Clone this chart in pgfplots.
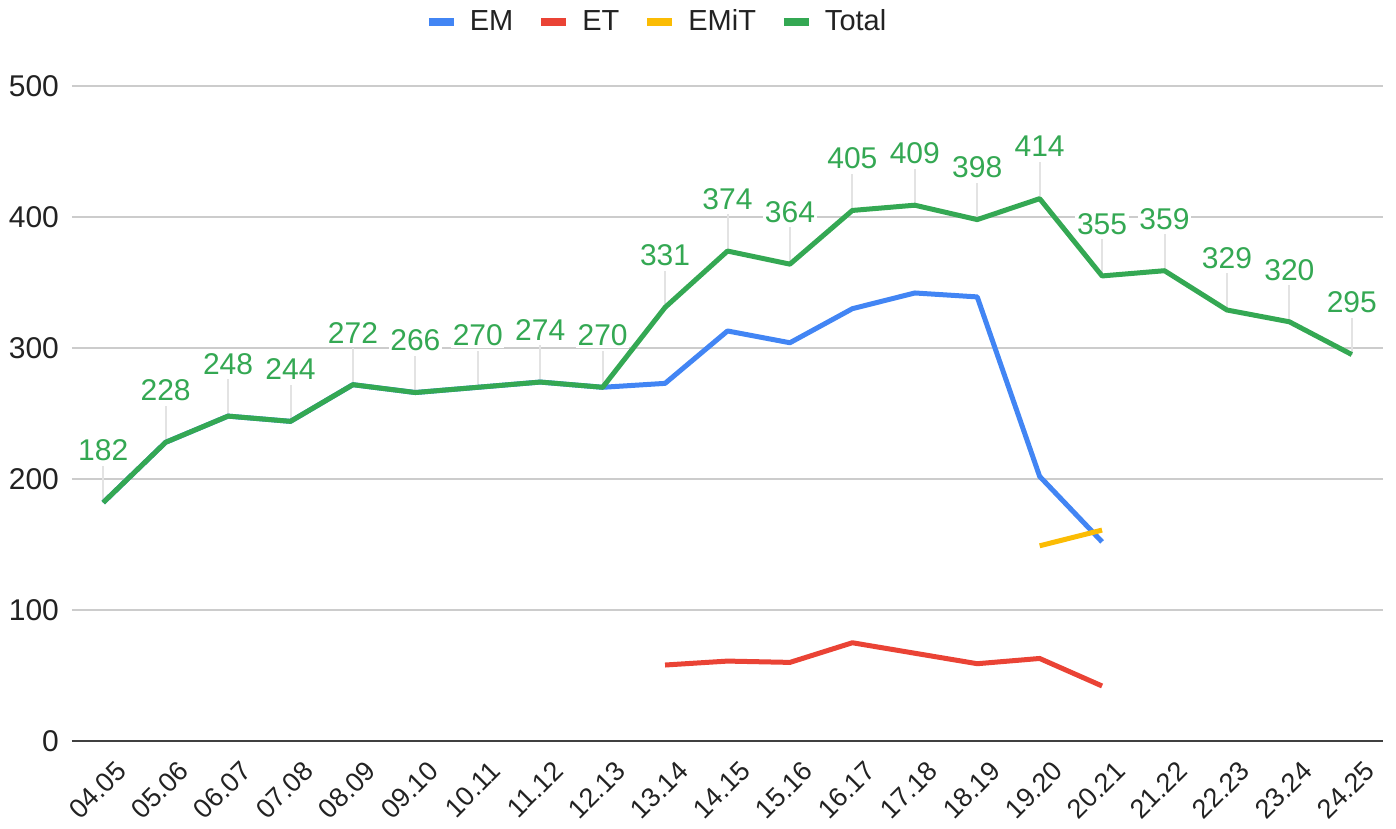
\documentclass[border=0pt]{standalone}
\usepackage{pgfplots}
\pgfplotsset{compat=1.18}
\usepackage{pgfplotstable}
\usepackage{fontspec}
\setmainfont{Liberation Sans}
\definecolor{cEM}{HTML}{4285F4}
\definecolor{cET}{HTML}{EA4335}
\definecolor{cEMiT}{HTML}{FBBC04}
\definecolor{cTotal}{HTML}{34A853}
\definecolor{gridc}{HTML}{CCCCCC}
\definecolor{stem}{HTML}{E3E3E3}
\definecolor{ticktext}{HTML}{222222}

\pgfplotstableread{
x total
0 182
1 228
2 248
3 244
4 272
5 266
6 270
7 274
8 270
9 331
10 374
11 364
12 405
13 409
14 398
15 414
16 355
17 359
18 329
19 320
20 295
}\totaldata

\pgfplotstableread{
x em
0 182
1 228
2 248
3 244
4 272
5 266
6 270
7 274
8 270
9 273
10 313
11 304
12 330
13 342
14 339
15 202
16 152
}\emdata

\pgfplotstableread{
x et
9 58
10 61
11 60
12 75
13 67
14 59
15 63
16 42
}\etdata

\pgfplotstableread{
x emit
15 149
16 161
}\emitdata

\begin{document}
\begin{tikzpicture}
\begin{axis}[
    scale only axis,
    width=655.5pt,
    height=327.5pt,
    xmin=-0.5, xmax=20.5,
    ymin=0, ymax=500,
    ytick={0,100,200,300,400,500},
    xtick={0,...,20},
    xticklabels={04.05,05.06,06.07,07.08,08.09,09.10,10.11,11.12,12.13,13.14,14.15,15.16,16.17,17.18,18.19,19.20,20.21,21.22,22.23,23.24,24.25},
    x tick label style={rotate=45, anchor=north east, font=\fontsize{13.5}{15}\selectfont, text=ticktext, xshift=1pt, yshift=-7pt},
    y tick label style={font=\fontsize{15}{17}\selectfont, text=ticktext, xshift=-3pt},
    /pgf/number format/assume math mode=true,
    major tick length=0pt,
    ymajorgrids,
    major grid style={draw=gridc, line width=1pt},
    axis x line*=bottom,
    axis y line*=left,
    x axis line style={-, draw=black!75, line width=1pt},
    y axis line style={draw=none},
    legend style={at={(0.5,1)}, anchor=center, xshift=-35pt, yshift=32pt, draw=none, fill=none,
        font=\fontsize{14.5}{17}\selectfont, text=ticktext, legend columns=4,
        /tikz/every odd column/.append style={column sep=4pt},
        /tikz/every even column/.append style={column sep=10pt}},
    legend image code/.code={\draw[line width=4pt] (0pt,0pt) -- (12.5pt,0pt);},
    clip=false,
    line join=round,
]
\addplot[draw=none, mark=none, forget plot,
    error bars/.cd, y dir=plus, y fixed=28, error mark=none,
    error bar style={draw=stem, line width=1pt}]
    table[x=x, y=total] {\totaldata};
\addplot[cEM, line width=2.5pt, mark=none] table[x=x, y=em] {\emdata};
\addplot[cET, line width=2.5pt, mark=none] table[x=x, y=et] {\etdata};
\addplot[cEMiT, line width=2.5pt, mark=none] table[x=x, y=emit] {\emitdata};
\addplot[cTotal, line width=2.5pt, mark=none,
    nodes near coords,
    every node near coord/.append style={anchor=center, yshift=26pt, text=cTotal,
        fill=white, inner sep=0.8pt, font=\fontsize{15}{17}\selectfont}]
    table[x=x, y=total] {\totaldata};
\legend{EM, ET, EMiT, Total}
\coordinate (bl) at (rel axis cs:0,0);
\coordinate (tr) at (rel axis cs:1,1);
\end{axis}
\pgfresetboundingbox
\path[use as bounding box] ([shift={(-36pt,-44pt)}]bl) rectangle ([shift={(6.5pt,43pt)}]tr);
\end{tikzpicture}
\end{document}
